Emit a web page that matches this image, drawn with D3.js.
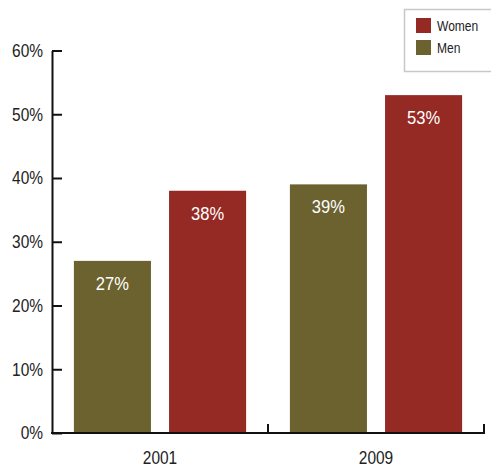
<!DOCTYPE html>
<html><head><meta charset="utf-8">
<script src="https://cdn.jsdelivr.net/npm/d3@7"></script>
<style>
html,body{margin:0;padding:0;background:#fff;}
svg{display:block;}
</style>
</head><body>
<svg id="chart" width="491" height="468"></svg>
<script>
const years = ["2001", "2009"];
const series = ["Men", "Women"];
const menValues = [27, 39];
const womenValues = [38, 53];
const yTicks = [0, 10, 20, 30, 40, 50, 60];
const legendOrder = ["Women", "Men"];

(function () {
const colors = {Men: "#6b6230", Women: "#952a25"};
const font = "'Liberation Sans',Arial,sans-serif";
const sq = 0.86; // horizontal condensing for the narrow typeface

const svg = d3.select("#chart");
const mLeft = 52, mRight = 484, mBottom = 433, mTop = 50.5;

const x0 = d3.scaleBand().domain(years).range([mLeft, mRight]).padding(0);
const x1 = d3.scaleBand().domain(series).range([0, x0.bandwidth()])
  .paddingInner(0.19).paddingOuter(0.23);
const y = d3.scaleLinear().domain([0, 60]).range([mBottom, mTop]);

const data = years.map((yr, i) => ({year: yr, values: [
  {key: "Men", value: menValues[i]},
  {key: "Women", value: womenValues[i]}
]}));

const groups = svg.selectAll("g.year").data(data).join("g")
  .attr("class", "year")
  .attr("transform", d => `translate(${x0(d.year)},0)`);

groups.selectAll("rect").data(d => d.values).join("rect")
  .attr("x", d => x1(d.key))
  .attr("width", x1.bandwidth())
  .attr("y", d => y(d.value))
  .attr("height", d => y(0) - y(d.value))
  .attr("fill", d => colors[d.key]);

groups.selectAll("text.val").data(d => d.values).join("text")
  .attr("class", "val")
  .attr("transform", d => `translate(${x1(d.key) + x1.bandwidth() / 2},${y(d.value) + 29}) scale(0.92,1)`)
  .attr("text-anchor", "middle")
  .attr("fill", "#fff")
  .style("font-family", font)
  .style("font-size", "18px")
  .text(d => d.value + "%");

// Y axis
const yAxis = d3.axisLeft(y).tickValues(yTicks).tickFormat(d => d + "%")
  .tickSizeInner(-10).tickSizeOuter(0).tickPadding(9 / sq);
const gy = svg.append("g").attr("transform", `translate(${mLeft},0)`).call(yAxis);
gy.select(".domain").attr("stroke", "#111").attr("stroke-width", 2);
gy.selectAll(".tick line").attr("stroke", "#111").attr("stroke-width", 2);
gy.selectAll(".tick text").style("font-family", font).style("font-size", "18px")
  .attr("fill", "#222").attr("transform", `scale(${sq},1)`);

// X axis
const gx = svg.append("g");
gx.append("line").attr("x1", mLeft - 1).attr("x2", mRight + 1)
  .attr("y1", mBottom).attr("y2", mBottom)
  .attr("stroke", "#111").attr("stroke-width", 2);
gx.selectAll("line.tk").data(years).join("line").attr("class", "tk")
  .attr("x1", d => x0(d) + x0.bandwidth()).attr("x2", d => x0(d) + x0.bandwidth())
  .attr("y1", mBottom).attr("y2", mBottom - 9)
  .attr("stroke", "#111").attr("stroke-width", 2);
gx.selectAll("text").data(years).join("text")
  .attr("transform", d => `translate(${x0(d) + x0.bandwidth() / 2},464) scale(${sq},1)`)
  .attr("text-anchor", "middle")
  .style("font-family", font).style("font-size", "18px").attr("fill", "#222")
  .text(d => d);

// Legend
const lg = svg.append("g");
lg.append("rect").attr("x", 404.5).attr("y", 9.5).attr("width", 100).attr("height", 62)
  .attr("fill", "#fff").attr("stroke", "#c8c8c8").attr("stroke-width", 1.5);
const li = lg.selectAll("g.item").data(legendOrder).join("g").attr("class", "item")
  .attr("transform", (d, i) => `translate(416,${18 + i * 22})`);
li.append("rect").attr("width", 15).attr("height", 15).attr("fill", d => colors[d]);
li.append("text").attr("transform", `translate(21,12.5) scale(${sq},1)`)
  .style("font-family", font).style("font-size", "14px").attr("fill", "#222")
  .text(d => d);
})();
</script>
</body></html>
